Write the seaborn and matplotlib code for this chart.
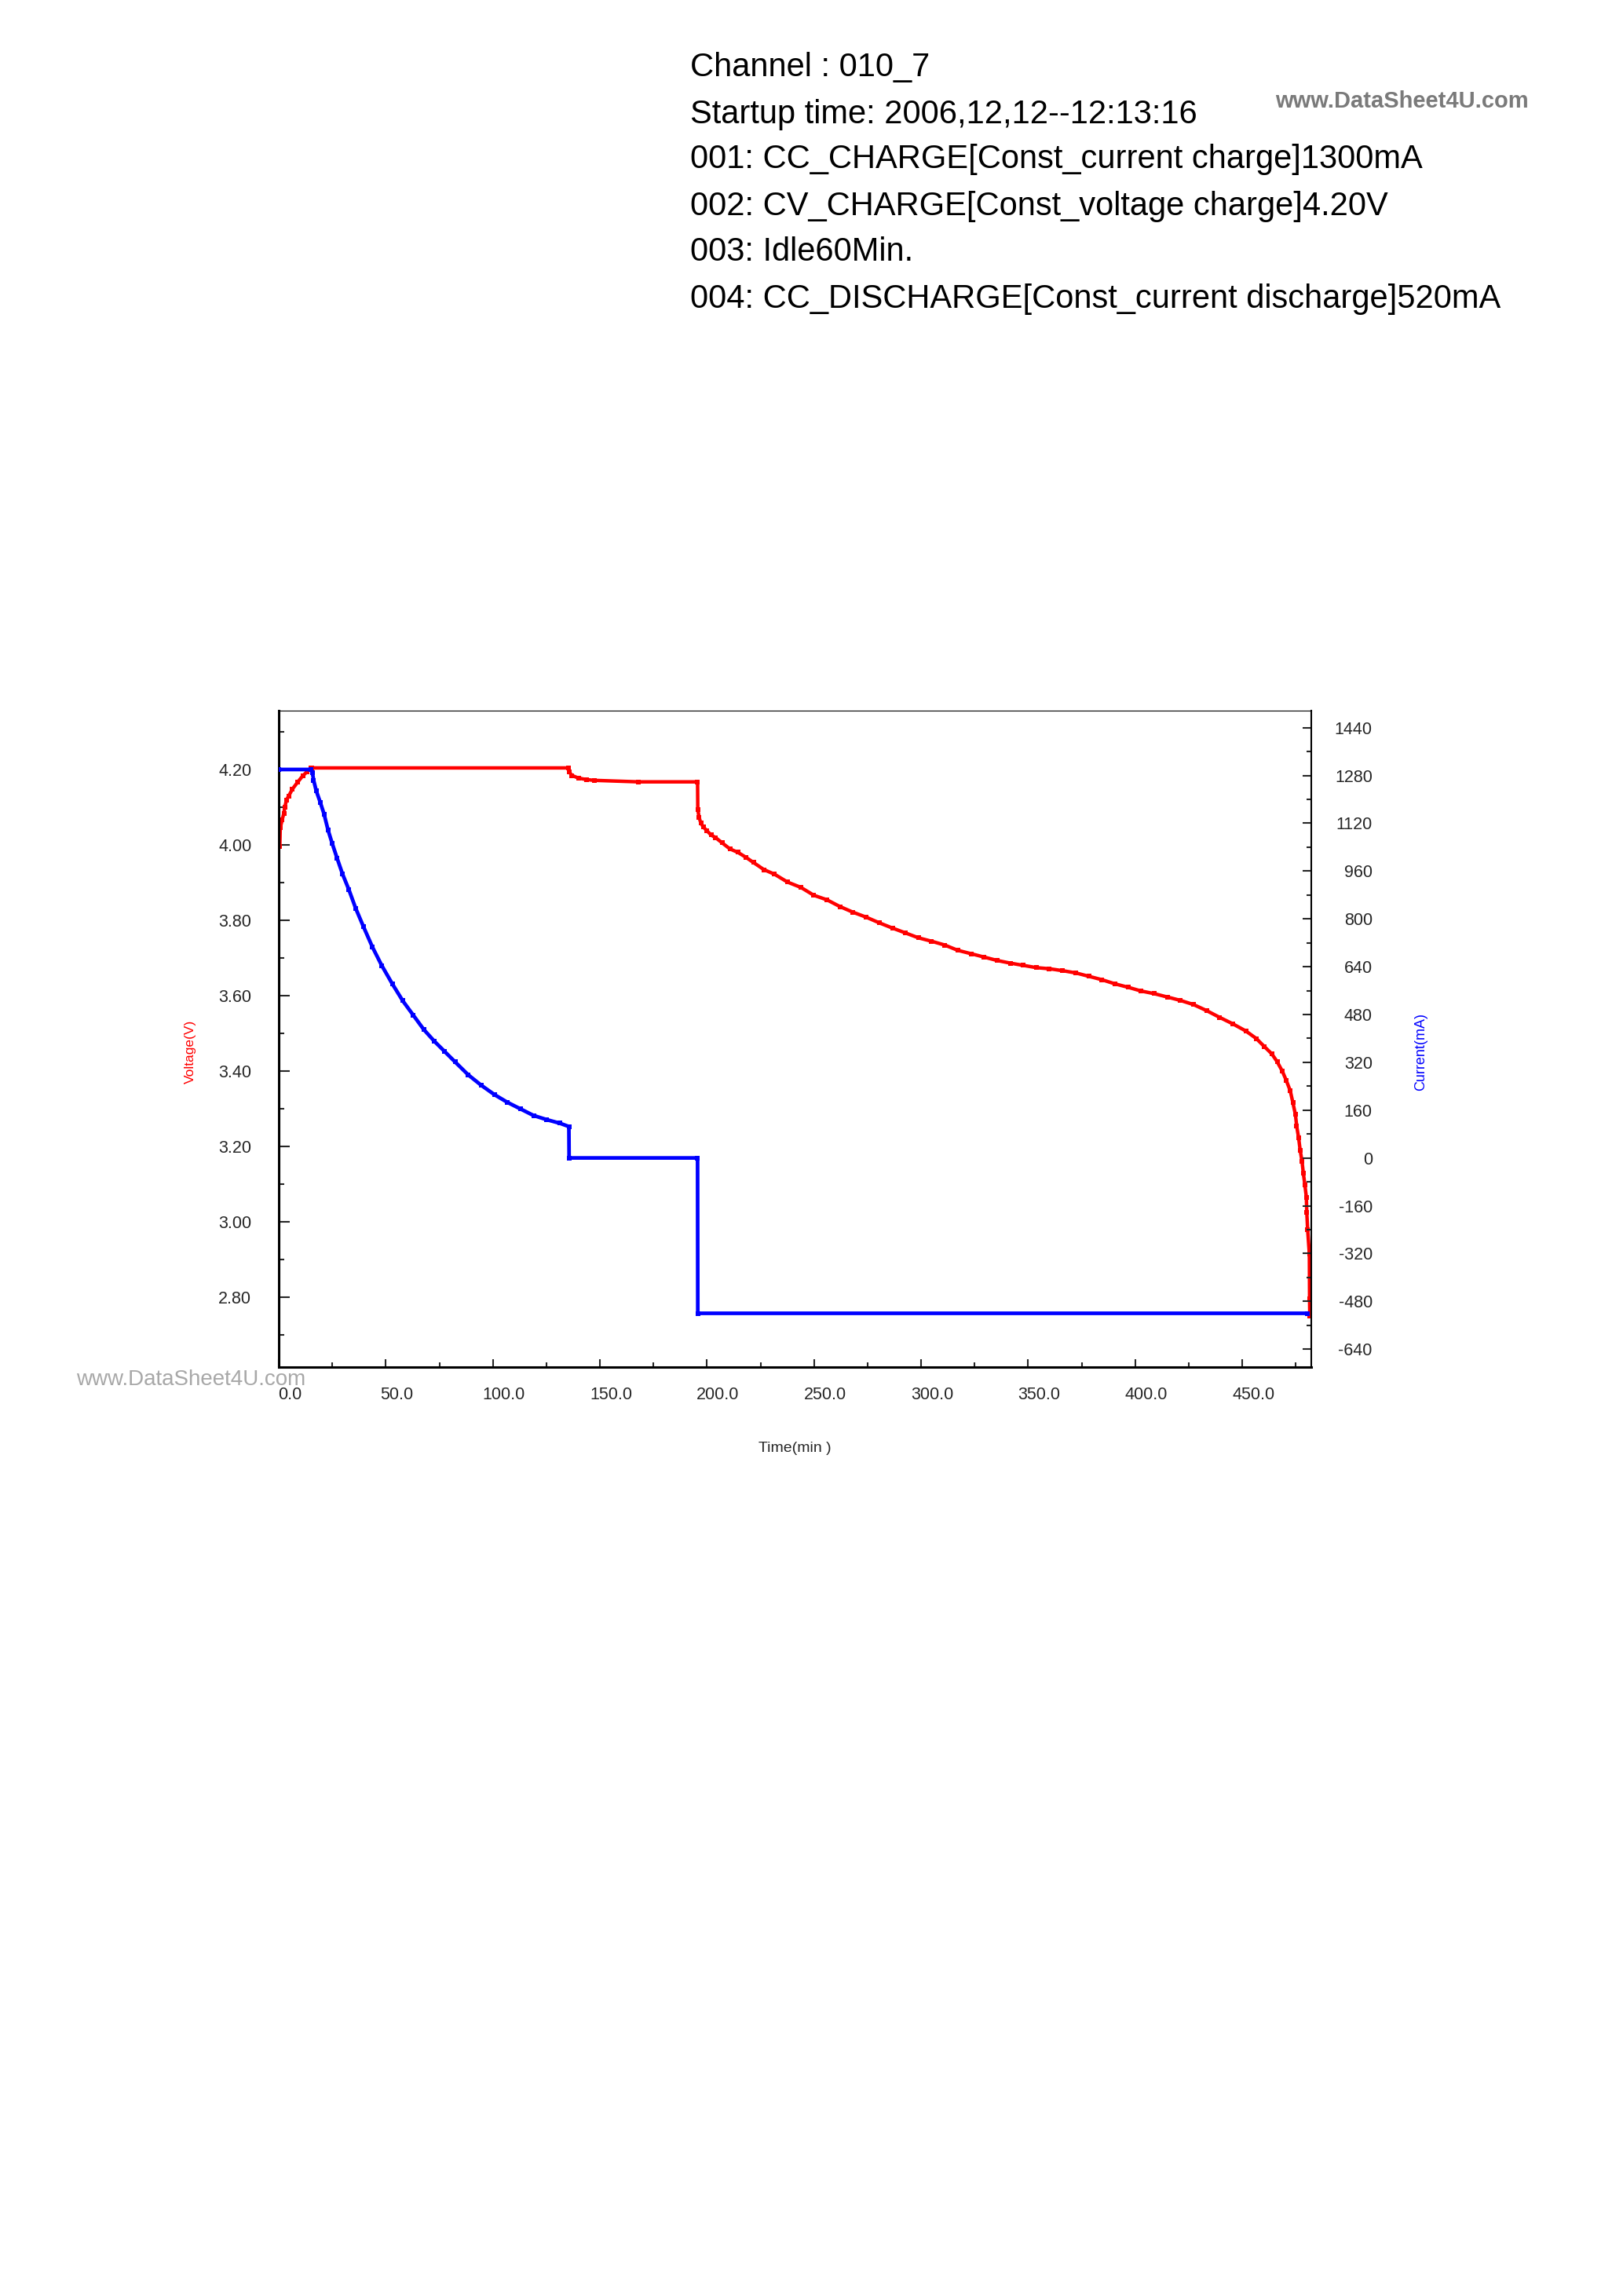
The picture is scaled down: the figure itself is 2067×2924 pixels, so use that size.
import numpy as np
import pandas as pd
import seaborn as sns
import matplotlib.pyplot as plt
import matplotlib.transforms as mtransforms
from matplotlib.ticker import MultipleLocator, FixedLocator, FormatStrFormatter

# header lines printed above the chart
header_lines = [
    "Channel : 010_7",
    "Startup time: 2006,12,12--12:13:16",
    "001: CC_CHARGE[Const_current charge]1300mA",
    "002: CV_CHARGE[Const_voltage charge]4.20V",
    "003: Idle60Min.",
    "004: CC_DISCHARGE[Const_current discharge]520mA",
]

# voltage trace (min, V)
volt_time = [0.5, 0.7, 1.6, 2.4, 2.8, 3.6, 4.6, 6.4, 8.8, 11.2, 13.1, 14.9, 15.3,
             135.3, 135.7, 136.9, 140.0, 143.7, 147.3, 168.0, 195.6,
             195.7, 196.3, 197.1, 198.3, 200.0, 201.9, 204.0, 207.1, 210.7, 214.4,
             218.1, 221.7, 226.6, 231.5, 237.6, 243.8, 249.9, 256.0, 262.1, 268.2,
             274.3, 280.4, 286.6, 292.7, 298.8, 304.9, 311.0, 317.1, 323.3, 329.4,
             335.5, 341.6, 347.7, 353.8, 359.9, 366.0, 372.2, 378.3, 384.4, 390.5,
             396.6, 402.7, 408.8, 415.0, 421.1, 427.2, 433.3, 439.4, 445.5, 451.6,
             456.5, 460.2, 463.8, 466.3, 468.7, 470.5, 472.4, 473.6, 474.8, 475.4,
             476.3, 477.0, 477.9, 478.5, 479.2, 479.9, 480.1, 480.5, 481.3, 481.4, 481.5]
volt_values = [3.997, 4.046, 4.067, 4.085, 4.100, 4.120, 4.130, 4.149, 4.167, 4.184, 4.194, 4.204, 4.205,
               4.205, 4.194, 4.185, 4.178, 4.174, 4.172, 4.168, 4.168,
               4.095, 4.074, 4.059, 4.048, 4.038, 4.027, 4.020, 4.006, 3.990, 3.981,
               3.968, 3.954, 3.935, 3.923, 3.902, 3.888, 3.867, 3.855, 3.837, 3.822,
               3.809, 3.794, 3.780, 3.767, 3.754, 3.745, 3.735, 3.721, 3.712, 3.703,
               3.694, 3.687, 3.681, 3.675, 3.672, 3.667, 3.661, 3.652, 3.643, 3.632,
               3.623, 3.613, 3.606, 3.597, 3.588, 3.577, 3.561, 3.543, 3.526, 3.507,
               3.487, 3.466, 3.446, 3.425, 3.400, 3.376, 3.348, 3.317, 3.285, 3.254,
               3.223, 3.191, 3.160, 3.129, 3.099, 3.066, 3.026, 2.980, 2.915, 2.796, 2.750]

# current trace (min, mA)
curr_time = [0.0, 14.9, 15.7, 16.3, 17.5, 19.4, 21.2, 23.0, 24.9, 27.3, 29.8, 32.8,
             35.9, 39.5, 43.8, 48.1, 53.0, 57.9, 62.8, 67.7, 72.6, 77.5, 82.4, 88.5,
             94.6, 100.7, 106.8, 112.9, 119.0, 125.2, 131.3, 135.5, 135.6, 195.6,
             195.7, 480.4]
curr_values = [1300, 1300, 1290, 1264, 1229, 1190, 1150, 1098, 1054, 1002, 950, 897,
               836, 775, 705, 644, 583, 526, 478, 430, 391, 356, 321, 278,
               243, 212, 186, 164, 142, 128, 116, 105, 0, 0,
               -520, -520]

x_ticks = list(range(0, 451, 50))
volt_ticks = [2.80, 3.00, 3.20, 3.40, 3.60, 3.80, 4.00, 4.20]
curr_ticks = list(range(-640, 1441, 160))

sns.set_style("ticks")
plt.rcParams['font.family'] = ['Liberation Sans', 'DejaVu Sans']

fig = plt.figure(figsize=(20.67, 29.24), dpi=100)
ax = fig.add_axes([355 / 2067, 1 - 1741 / 2924, (1670 - 355) / 2067, (1741 - 905) / 2924])
ax2 = ax.twinx()

volt_df = pd.DataFrame({'time': volt_time, 'voltage': volt_values})
curr_df = pd.DataFrame({'time': curr_time, 'current': curr_values})

sns.lineplot(data=volt_df, x='time', y='voltage', ax=ax, color='#ff0000',
             linewidth=3.2, marker='s', markersize=5, markeredgewidth=0,
             estimator=None, sort=False)
sns.lineplot(data=curr_df, x='time', y='current', ax=ax2, color='#0000ff',
             linewidth=3.4, marker='s', markersize=5, markeredgewidth=0,
             estimator=None, sort=False)

ax.set_xlim(0, 482.2)
ax.set_ylim(2.615, 4.357)
ax2.set_ylim(-700, 1497)

tick_font = 15.5
ax.xaxis.set_major_locator(FixedLocator(x_ticks))
ax.xaxis.set_minor_locator(MultipleLocator(25))
ax.xaxis.set_major_formatter(FormatStrFormatter('%.1f'))
ax.yaxis.set_major_locator(FixedLocator(volt_ticks))
ax.yaxis.set_minor_locator(MultipleLocator(0.1))
ax.yaxis.set_major_formatter(FormatStrFormatter('%.2f'))
ax2.yaxis.set_major_locator(FixedLocator(curr_ticks))
ax2.yaxis.set_minor_locator(MultipleLocator(80))
ax2.yaxis.set_major_formatter(FormatStrFormatter('%d'))

ax.tick_params(axis='x', which='both', direction='in', top=False, labelsize=tick_font, pad=18)
ax.tick_params(axis='x', which='major', length=7, width=1.5)
ax.tick_params(axis='x', which='minor', length=4, width=1.5)
ax.tick_params(axis='y', which='both', direction='in', right=False, labelsize=tick_font, pad=25)
ax.tick_params(axis='y', which='major', length=10, width=1.5)
ax.tick_params(axis='y', which='minor', length=5, width=1.5)
ax2.tick_params(axis='y', which='both', direction='in', left=False, labelsize=tick_font, pad=56)
ax2.tick_params(axis='y', which='major', length=8, width=1.5)
ax2.tick_params(axis='y', which='minor', length=4, width=1.5)
for lab in ax2.get_yticklabels():
    lab.set_horizontalalignment('right')

# labels sit a little right of their ticks in the original
shift = mtransforms.ScaledTranslation(0.14, 0, fig.dpi_scale_trans)
for lab in ax.get_xticklabels():
    lab.set_transform(lab.get_transform() + shift)

for s in ['left', 'bottom']:
    ax.spines[s].set_linewidth(2.2)
ax.spines['top'].set_linewidth(0.8)
ax.spines['right'].set_visible(False)
for s in ['left', 'bottom', 'top']:
    ax2.spines[s].set_visible(False)
ax2.spines['right'].set_linewidth(1.5)
for sp in list(ax.spines.values()) + list(ax2.spines.values()):
    sp.set_color('black')

ax.set_xlabel('Time(min )', fontsize=14)
ax.xaxis.set_label_coords(0.5, -0.114)
ax.set_ylabel('Voltage(V)', fontsize=12.5, color='#ff0000')
ax.yaxis.set_label_coords(-0.080, 0.48)
ax2.set_ylabel('Current(mA)', fontsize=13, color='#0000ff')
ax2.yaxis.set_label_coords(1.100, 0.48)

line_y = [85.8, 145.5, 203.3, 263.0, 320.9, 380.6]
for txt, y in zip(header_lines, line_y):
    fig.text(879 / 2067, 1 - y / 2924, txt, fontsize=30, va='center', ha='left', color='black')

fig.text(1785 / 2067, 1 - 129 / 2924, 'www.DataSheet4U.com', fontsize=21, fontweight='bold',
         color='#7a7a7a', ha='center', va='center')
fig.text(97 / 2067, 1 - 1757 / 2924, 'www.DataSheet4U.com', fontsize=20,
         color='#a8a8a8', ha='left', va='center')

fig.savefig('out.png', dpi=100)
